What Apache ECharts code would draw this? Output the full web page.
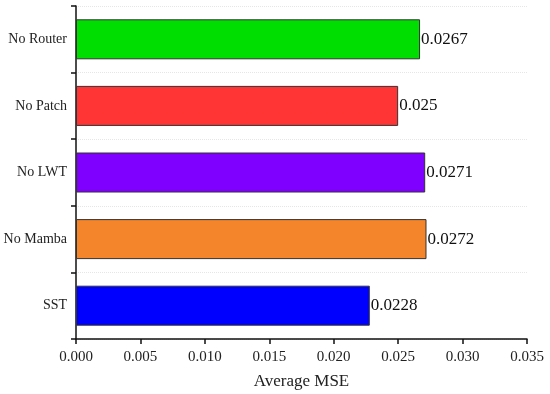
<!DOCTYPE html>
<html>
<head>
<meta charset="utf-8">
<script src="https://cdn.jsdelivr.net/npm/echarts@6/dist/echarts.min.js"></script>
<style>html,body{margin:0;padding:0;background:#fff;}#c{width:550px;height:394px;}</style>
</head>
<body>
<div id="c"></div>
<script>
const categories = ['SST', 'No Mamba', 'No LWT', 'No Patch', 'No Router'];
const values = [0.0228, 0.0272, 0.0271, 0.025, 0.0267];
const barColors = ['#0000ff', '#f5852a', '#8000ff', '#ff3535', '#00dd00'];
const xTicks = { min: 0, max: 0.035, interval: 0.005 };
const xName = 'Average MSE';

const font = '"Liberation Serif", "DejaVu Serif", serif';
const chart = echarts.init(document.getElementById('c'));
chart.setOption({
  animation: false,
  grid: { left: 76, right: 23, top: 6, bottom: 55, containLabel: false, outerBoundsMode: 'none' },
  xAxis: {
    type: 'value',
    min: xTicks.min, max: xTicks.max, interval: xTicks.interval,
    name: xName, nameLocation: 'middle', nameGap: 34,
    nameTextStyle: { fontFamily: font, fontSize: 17, color: '#222' },
    axisLine: { show: true, lineStyle: { color: '#111', width: 1.5 } },
    axisTick: { show: true, inside: false, length: 5, lineStyle: { color: '#111', width: 1.5 } },
    axisLabel: { fontFamily: font, fontSize: 15, color: '#222', margin: 11,
      formatter: v => v.toFixed(3) },
    splitLine: { show: false }
  },
  yAxis: {
    type: 'category',
    data: categories,
    axisLine: { show: true, lineStyle: { color: '#111', width: 1.5 } },
    axisTick: { show: true, inside: false, length: 5, lineStyle: { color: '#111', width: 1.5 } },
    axisLabel: { fontFamily: font, fontSize: 14, color: '#222', margin: 9 },
    splitLine: { show: true, lineStyle: { color: '#e6e6e6', type: 'dotted', width: 1 } }
  },
  series: [{
    type: 'bar',
    barWidth: 40,
    data: values.map((v, i) => ({ value: v, itemStyle: { color: barColors[i] } })),
    itemStyle: { borderColor: '#333', borderWidth: 1 },
    label: { show: true, position: 'right', distance: 1, fontFamily: font, fontSize: 17, color: '#111',
      formatter: p => String(p.value) }
  }]
});
</script>
</body>
</html>
